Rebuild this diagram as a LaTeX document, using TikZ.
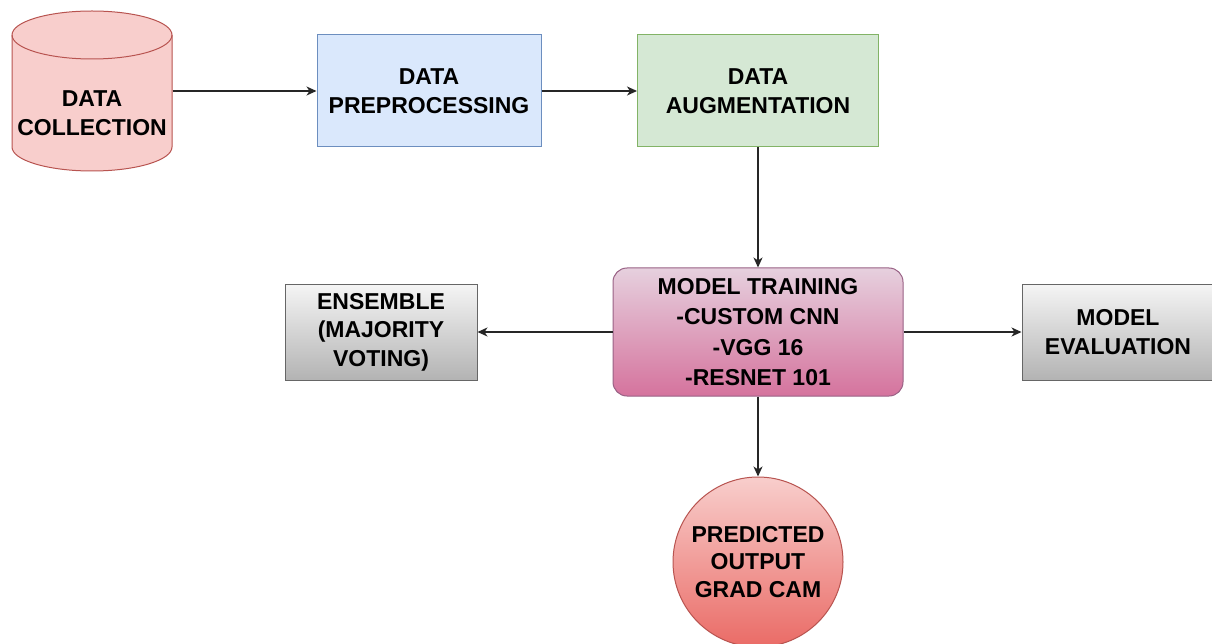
\documentclass[tikz,border=0pt]{standalone}
\usepackage{fontspec}
\setmainfont{Liberation Sans}
\usetikzlibrary{arrows.meta}
\definecolor{redfill}{HTML}{F8CECC}
\definecolor{redline}{HTML}{B85450}
\definecolor{redgrad}{HTML}{EA6B66}
\definecolor{bluefill}{HTML}{DAE8FC}
\definecolor{blueline}{HTML}{6C8EBF}
\definecolor{greenfill}{HTML}{D5E8D4}
\definecolor{greenline}{HTML}{82B366}
\definecolor{pinktop}{HTML}{E6D0DE}
\definecolor{pinkbot}{HTML}{D5739D}
\definecolor{pinkline}{HTML}{996185}
\definecolor{graytop}{HTML}{F5F5F5}
\definecolor{graybot}{HTML}{B3B3B3}
\definecolor{grayline}{HTML}{666666}
\begin{document}
\begin{tikzpicture}[x=1pt,y=-1pt,
  lbl/.style={inner sep=0pt, align=center, font=\fontsize{23}{28.5}\selectfont\bfseries},
  box/.style={lbl, draw, line width=1pt},
  graybox/.style={box, draw=grayline, top color=graytop, bottom color=graybot, minimum width=192pt, minimum height=96pt},
  conn/.style={line width=1.4pt, draw=black!85, -{Stealth[length=10pt,width=9pt,inset=3pt]}}]
\clip (0,0) rectangle (1212,644);
\fill[white] (0,0) rectangle (1212,644);
% cylinder
\filldraw[fill=redfill, draw=redline, line width=1pt]
  (12,35) -- (12,147) arc[start angle=180,end angle=0,x radius=80,y radius=24]
  -- (172,35) arc[start angle=0,end angle=-180,x radius=80,y radius=24] -- cycle;
\draw[redline, line width=1pt] (12,35) arc[start angle=180,end angle=0,x radius=80,y radius=24];
\node[lbl, minimum width=161pt, minimum height=162pt] (dc) at (92,91) {};
\node[lbl] (dctext) at (92,113) {DATA\\COLLECTION};
% boxes
\node[box, draw=blueline, fill=bluefill, minimum width=224pt, minimum height=112pt] (pre) at (429,91) {DATA\\PREPROCESSING};
\node[box, draw=greenline, fill=greenfill, minimum width=241pt, minimum height=112pt] (aug) at (758,91) {DATA\\AUGMENTATION};
\node[box, draw=pinkline, top color=pinktop, bottom color=pinkbot, rounded corners=14pt, minimum width=290pt, minimum height=128pt, font=\fontsize{23}{30.5}\selectfont\bfseries] (train) at (758,332) {MODEL TRAINING\\-CUSTOM CNN\\-VGG 16\\-RESNET 101};
\node[graybox] (ens) at (381,332) {ENSEMBLE\\(MAJORITY\\VOTING)};
\node[graybox] (eval) at (1118,332) {MODEL\\EVALUATION};
\node[box, circle, draw=redline, top color=redfill, bottom color=redgrad, minimum size=170pt, font=\fontsize{23}{27.5}\selectfont\bfseries] (pc) at (758,562) {PREDICTED\\OUTPUT\\GRAD CAM};
% connectors
\draw[conn] (dc.east) -- (pre.west);
\draw[conn] (pre.east) -- (aug.west);
\draw[conn] (aug.south) -- (train.north);
\draw[conn] (train.west) -- (ens.east);
\draw[conn] (train.east) -- (eval.west);
\draw[conn] (train.south) -- (pc.north);
\end{tikzpicture}
\end{document}
